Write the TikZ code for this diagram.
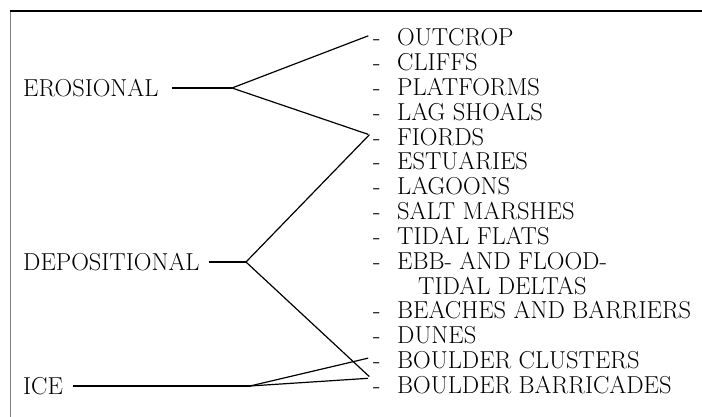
\documentclass[tikz,border=0pt]{standalone}
\usepackage{tikz}
\usetikzlibrary{positioning}
\newcommand{\dashitem}[1]{\makebox[24pt][l]{-}#1}

\begin{document}
\begin{tikzpicture}[x=1pt, y=-1pt,
  every node/.style={font=\fontsize{24.5}{28}\selectfont, inner sep=0pt},
  group/.style={anchor=west},
  item/.style={anchor=west},
  link/.style={line width=1.2pt, shorten >=5pt}]
\useasboundingbox (0,0) rectangle (702,417);

% Frame
\draw[gray, line width=1pt] (10,417) -- (10,11);
\draw[line width=1.6pt] (10,11) -- (702,11);

% Groups
\node[group] at (23,88) (ero) {EROSIONAL};
\node[group] at (23,262) (dep) {DEPOSITIONAL};
\node[group] at (23,386) (ice) {ICE};

% Branch points
\coordinate (ero_br) at (232,88);
\coordinate (dep_br) at (246,262);
\coordinate (ice_br) at (250,386);

% Items
\node[item] at (373,37) (outcrop) {\dashitem{OUTCROP}};
\node[item] at (373,62) (cliffs) {\dashitem{CLIFFS}};
\node[item] at (373,87) (platforms) {\dashitem{PLATFORMS}};
\node[item] at (373,112) (lag) {\dashitem{LAG SHOALS}};
\node[item] at (373,137) (fiords) {\dashitem{FIORDS}};
\node[item] at (373,161) (estuaries) {\dashitem{ESTUARIES}};
\node[item] at (373,186) (lagoons) {\dashitem{LAGOONS}};
\node[item] at (373,211) (marshes) {\dashitem{SALT MARSHES}};
\node[item] at (373,236) (flats) {\dashitem{TIDAL FLATS}};
\node[item] at (373,261) (ebb) {\dashitem{EBB- AND FLOOD-}};
\node[item] at (418,286) (ebb2) {TIDAL DELTAS};
\node[item] at (373,310) (beaches) {\dashitem{BEACHES AND BARRIERS}};
\node[item] at (373,335) (dunes) {\dashitem{DUNES}};
\node[item] at (373,360) (clusters) {\dashitem{BOULDER CLUSTERS}};
\node[item] at (373,385) (barricades) {\dashitem{BOULDER BARRICADES}};

% Erosional
\draw[line width=1.2pt] ([xshift=13pt]ero.east) -- (ero_br);
\draw[link] (ero_br) -- ([yshift=3pt]outcrop.west);
\draw[link] (ero_br) -- ([yshift=1pt]fiords.west);

% Depositional
\draw[line width=1.2pt] ([xshift=9pt]dep.east) -- (dep_br);
\draw[link] (dep_br) -- ([yshift=6pt]fiords.west);
\draw[link] (dep_br) -- ([yshift=5pt]barricades.west);

% Ice
\draw[line width=1.2pt] ([xshift=10pt]ice.east) -- (ice_br);
\draw[link] (ice_br) -- ([yshift=3pt]clusters.west);
\draw[link] (ice_br) -- ([yshift=7pt]barricades.west);

\end{tikzpicture}
\end{document}
